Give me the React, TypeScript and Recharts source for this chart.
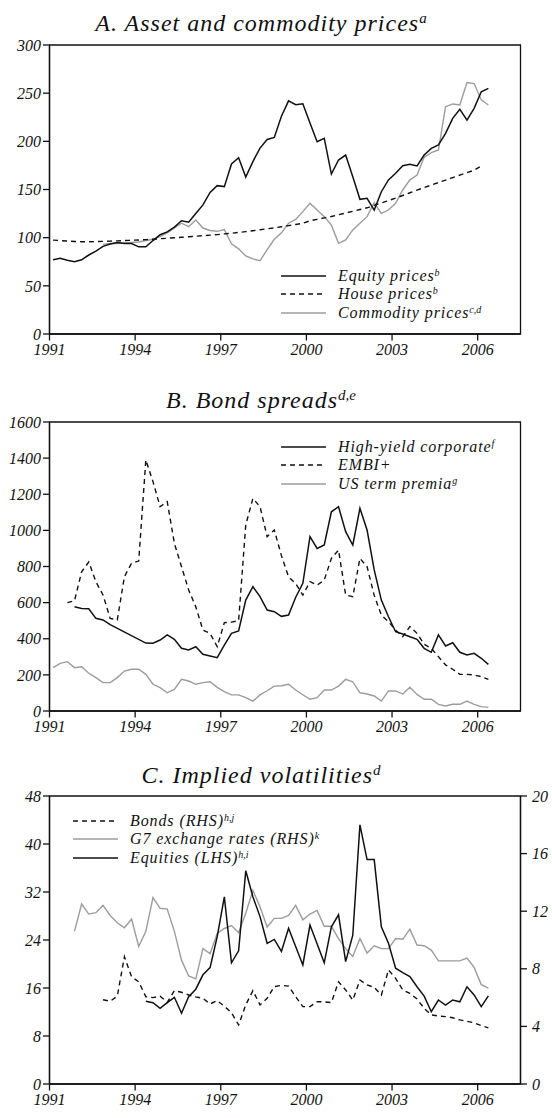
import React from "react";
import { LineChart, Line, XAxis, YAxis, ReferenceArea } from "recharts";

const FONT = "'Liberation Serif', 'Times New Roman', serif";
const BLACK = "#111";
const GREY = "#9c9c9c";
const DASH = "5 4";

// mid-quarter dates, 1991Q1 .. 2006Q2
const quarterDates = [
  1991.125, 1991.375, 1991.625, 1991.875,
  1992.125, 1992.375, 1992.625, 1992.875,
  1993.125, 1993.375, 1993.625, 1993.875,
  1994.125, 1994.375, 1994.625, 1994.875,
  1995.125, 1995.375, 1995.625, 1995.875,
  1996.125, 1996.375, 1996.625, 1996.875,
  1997.125, 1997.375, 1997.625, 1997.875,
  1998.125, 1998.375, 1998.625, 1998.875,
  1999.125, 1999.375, 1999.625, 1999.875,
  2000.125, 2000.375, 2000.625, 2000.875,
  2001.125, 2001.375, 2001.625, 2001.875,
  2002.125, 2002.375, 2002.625, 2002.875,
  2003.125, 2003.375, 2003.625, 2003.875,
  2004.125, 2004.375, 2004.625, 2004.875,
  2005.125, 2005.375, 2005.625, 2005.875,
  2006.125, 2006.375,
];

const yearTicks = [1991, 1994, 1997, 2000, 2003, 2006];

// A. Asset and commodity prices
const equityPrices = [
  77, 78.5, 76.5, 75, 77, 82, 86, 91, 93.5, 95, 94, 94, 90.5, 90.5, 97, 103,
  106, 111, 117.5, 116, 125, 134, 147, 154, 153, 176.5, 183, 163, 179, 193, 202, 204,
  226, 242, 238, 239, 219, 199.6, 203, 166, 180.6, 185.8, 163.3, 139.8,
  140.8, 128.7, 147.7, 160, 166.8, 174.7, 176.1, 174.4, 185.8, 192.7, 196.2, 208.3,
  223.9, 233.2, 222, 234.3, 251.5, 255,
];
const housePrices = [
  97.5, 97.0, 96.5, 96.0, 95.8, 95.8, 95.9, 96.1, 96.4, 96.7, 97.0, 97.3,
  97.6, 98.0, 98.4, 98.9, 99.4, 99.9, 100.4, 100.9, 101.5, 102.0, 102.6, 103.2,
  103.9, 104.6, 105.4, 106.3, 107.2, 108.2, 109.2, 110.2, 111.3, 112.5, 113.7, 115.0,
  117.5, 119.0, 120.5, 122.0, 123.8, 125.6, 127.4, 129.2, 131.0, 133.5, 136.0, 138.5,
  141.0, 143.8, 146.6, 149.4, 152.0, 154.6, 157.2, 159.8, 162.4, 165.0, 167.5, 170.0,
  174.5, null,
];
const commodityPrices = [
  null, null, null, null, null, null, null, 93, 94, 94, 94.5, 95,
  95.5, 97, 98.3, 101, 105, 110, 115, 111.4, 118.3, 110, 107.5, 106.6,
  108.3, 93.7, 88.4, 81, 77.9, 76, 87.7, 98.3, 105, 115, 119, 127,
  135.6, 128.7, 121.8, 113, 94.1, 97.6, 108, 115, 121.8, 136.3, 125.3, 128.7,
  135.6, 149.5, 160, 165, 183.4, 188.2, 191, 236, 238.8, 237.7, 261, 260,
  243, 237.7,
];

// B. Bond spreads
const highYield = [
  null, null, null, 577, 568, 566, 513, 504, 478, null, null, null,
  null, 376, 375, 393, 421, 397, 347, 338, 356, 314, 305, 295,
  365, 430, 443, 614, 688, 633, 559, 550, 524, 531, 630, 707,
  965, 900, 919, 1103, 1131, 993, 919, 1122, 1002, 781, 614, 522,
  439, 426, 411, 397, 347, 325, 421, 360, 378, 325, 310, 319,
  292, 258,
];
const embiPlus = [
  null, null, 600, 610, 770, 825, 716, 642, 513, 504, 744, 818,
  830, 1390, 1270, 1131, 1159, 928, 799, 670, 577, 448, 430, 356,
  489, 492, 500, 1030, 1177, 1131, 965, 1002, 860, 743, 705, 642,
  716, 697, 725, 845, 891, 642, 633, 845, 799, 640, 531, 494,
  448, 411, 467, 430, 370, 347, 301, 255, 231, 203, 203, 199,
  190, 175,
];
const termPremia = [
  240, 264, 273, 240, 245, 209, 185, 157, 157, 185, 221, 231,
  231, 203, 148, 129, 101, 120, 175, 166, 148, 157, 162, 131,
  107, 89, 89, 74, 55, 89, 112, 138, 140, 148, 116, 90,
  65, 74, 116, 116, 138, 175, 162, 101, 94, 83, 55, 111,
  111, 94, 131, 92, 65, 65, 37, 28, 37, 37, 55, 37,
  24, 20,
];

// C. Implied volatilities
const bondVol = [
  null, null, null, null, null, null, null, 5.85, 5.75, 6.1, 8.84, 7.45,
  7.1, 6.06, 6.0, 6.1, 5.67, 6.48, 6.37, 6.18, 6.05, 5.95, 5.56, 5.79,
  5.4, 4.95, 4.1, 5.49, 6.48, 5.49, 5.95, 6.76, 6.85, 6.8, 6.06, 5.37,
  5.37, 5.72, 5.7, 5.65, 7.1, 6.53, 5.83, 7.22, 6.88, 6.71, 6.18, 7.92,
  7.34, 6.53, 6.3, 5.9, 5.25, 4.8, 4.72, 4.68, 4.6, 4.45, 4.35, 4.25,
  4.05, 3.9,
];
const fxVol = [
  null, null, null, 10.6, 12.5, 11.8, 11.9, 12.4, 11.7, 11.2, 10.85, 11.45,
  9.55, 10.6, 12.95, 12.2, 12.15, 10.6, 8.6, 7.5, 7.3, 9.4, 9.05, 10.45,
  10.8, 11.0, 10.5, 11.85, 13.45, 12.3, 10.9, 11.5, 11.5, 11.7, 12.4, 11.4,
  11.8, 12.05, 10.95, 10.95, 10.1, 9.4, 8.85, 10.1, 9.1, 9.6, 9.4, 9.4,
  10.1, 10.05, 10.75, 9.65, 9.6, 9.3, 8.55, 8.55, 8.55, 8.55, 8.75, 8.1,
  6.9, 6.65,
];
const equityVol = [
  null, null, null, null, null, null, null, null, null, null, null, null,
  null, 13.8, 13.55, 12.6, 13.55, 14.45, 11.8, 14.55, 15.8, 18.2, 19.4, 24.55,
  31.2, 20.2, 22.2, 35.55, 31.2, 27.9, 23.45, 24.1, 22.1, 25.95, null, 19.85,
  26.5, null, 20.2, 26.2, 28.2, 20.4, 24.8, 43.2, 37.4, 37.4, 26.2, 23.45,
  19.3, 18.55, 17.9, 16.2, 14.65, 12.05, 14.0, 13.15, 14.0, 13.7, 16.2, 14.85,
  12.9, 14.7,
];

const dataA = quarterDates.map((x, i) => ({
  x, equity: equityPrices[i], house: housePrices[i], commodity: commodityPrices[i],
}));
const dataB = quarterDates.map((x, i) => ({
  x, hy: highYield[i], embi: embiPlus[i], term: termPremia[i],
}));
const dataC = quarterDates.map((x, i) => ({
  x, bonds: bondVol[i], fx: fxVol[i], equities: equityVol[i],
}));

const tickStyle = { fontFamily: FONT, fontStyle: "italic", fontSize: 16, fill: BLACK };
const axisStroke = { stroke: BLACK, strokeWidth: 1.3 };

function Title({ top, text, sup }) {
  return (
    <div
      style={{
        position: "absolute", top, left: 0, width: 522, textAlign: "center",
        fontFamily: FONT, fontStyle: "italic", fontSize: 24, lineHeight: "24px",
        letterSpacing: 1, color: BLACK, whiteSpace: "nowrap",
      }}
    >
      {text}
      <span style={{ fontSize: 15, verticalAlign: "8px", letterSpacing: 0 }}>{sup}</span>
    </div>
  );
}

function LegendBox({ left, top, items }) {
  return (
    <div style={{ position: "absolute", left, top }}>
      {items.map((it) => (
        <div
          key={it.label}
          style={{
            display: "flex", alignItems: "center", height: 18.5,
            fontFamily: FONT, fontStyle: "italic", fontSize: 16, color: BLACK,
            letterSpacing: 0.9, whiteSpace: "nowrap",
          }}
        >
          <svg width={45} height={10} style={{ marginRight: 12 }}>
            <line x1={0} y1={5} x2={45} y2={5} stroke={it.color} strokeWidth={1.4}
              strokeDasharray={it.dash ? DASH : undefined} />
          </svg>
          <span>
            {it.label}
            <span style={{ fontSize: 10, verticalAlign: "5px", letterSpacing: 0 }}>{it.sup}</span>
          </span>
        </div>
      ))}
    </div>
  );
}

function xAxis(height) {
  return (
    <XAxis
      dataKey="x" type="number" domain={[1991, 2007.5]} ticks={yearTicks}
      interval={0} height={height} tick={tickStyle} tickSize={6.5} tickMargin={3}
      axisLine={axisStroke} tickLine={axisStroke}
    />
  );
}

export default function App() {
  return (
    <div style={{ position: "absolute", left: 0, top: 0, width: 552, height: 1118, background: "#fff" }}>
      <Title top={6} text="A. Asset and commodity prices" sup="a" />
      <div style={{ position: "absolute", left: 0, top: 0 }}>
        <LineChart width={552} height={370} data={dataA}
          margin={{ top: 45, right: 31.5, bottom: 6, left: 9.5 }}>
          {xAxis(30)}
          <YAxis type="number" domain={[0, 300]} ticks={[0, 50, 100, 150, 200, 250, 300]}
            width={40} tick={tickStyle} tickSize={6.5} tickMargin={2}
            axisLine={axisStroke} tickLine={axisStroke} />
          <ReferenceArea x1={1991} x2={2007.5} y1={0} y2={300} fill="none" stroke={BLACK} strokeWidth={1.3} />
          <Line dataKey="commodity" type="linear" stroke={GREY} strokeWidth={1.4} dot={false} isAnimationActive={false} />
          <Line dataKey="house" type="linear" stroke={BLACK} strokeWidth={1.4} strokeDasharray={DASH} dot={false} isAnimationActive={false} />
          <Line dataKey="equity" type="linear" stroke={BLACK} strokeWidth={1.5} dot={false} isAnimationActive={false} />
        </LineChart>
      </div>
      <LegendBox left={281} top={266.5} items={[
        { label: "Equity prices", sup: "b", color: BLACK },
        { label: "House prices", sup: "b", color: BLACK, dash: true },
        { label: "Commodity prices", sup: "c,d", color: GREY },
      ]} />

      <Title top={383} text="B. Bond spreads" sup="d,e" />
      <div style={{ position: "absolute", left: 0, top: 370 }}>
        <LineChart width={552} height={370} data={dataB}
          margin={{ top: 52, right: 31.5, bottom: 0, left: 9.5 }}>
          {xAxis(29)}
          <YAxis type="number" domain={[0, 1600]} ticks={[0, 200, 400, 600, 800, 1000, 1200, 1400, 1600]}
            width={40} tick={tickStyle} tickSize={6.5} tickMargin={2}
            axisLine={axisStroke} tickLine={axisStroke} />
          <ReferenceArea x1={1991} x2={2007.5} y1={0} y2={1600} fill="none" stroke={BLACK} strokeWidth={1.3} />
          <Line dataKey="term" type="linear" stroke={GREY} strokeWidth={1.4} dot={false} isAnimationActive={false} />
          <Line dataKey="embi" type="linear" stroke={BLACK} strokeWidth={1.4} strokeDasharray={DASH} dot={false} isAnimationActive={false} />
          <Line dataKey="hy" type="linear" stroke={BLACK} strokeWidth={1.5} dot={false} connectNulls isAnimationActive={false} />
        </LineChart>
      </div>
      <LegendBox left={281} top={437.5} items={[
        { label: "High-yield corporate", sup: "f", color: BLACK },
        { label: "EMBI+", sup: "", color: BLACK, dash: true },
        { label: "US term premia", sup: "g", color: GREY },
      ]} />

      <Title top={758} text="C. Implied volatilities" sup="d" />
      <div style={{ position: "absolute", left: 0, top: 740 }}>
        <LineChart width={552} height={378} data={dataC}
          margin={{ top: 56, right: 0, bottom: 4, left: 9.5 }}>
          {xAxis(30)}
          <YAxis yAxisId="left" type="number" domain={[0, 48]} ticks={[0, 8, 16, 24, 32, 40, 48]}
            width={40} tick={tickStyle} tickSize={6.5} tickMargin={2}
            axisLine={axisStroke} tickLine={axisStroke} />
          <YAxis yAxisId="right" orientation="right" type="number" domain={[0, 20]} ticks={[0, 4, 8, 12, 16, 20]}
            width={31.5} tick={tickStyle} tickSize={6.5} tickMargin={5}
            axisLine={axisStroke} tickLine={axisStroke} />
          <ReferenceArea yAxisId="left" x1={1991} x2={2007.5} y1={0} y2={48} fill="none" stroke={BLACK} strokeWidth={1.3} />
          <Line yAxisId="right" dataKey="fx" type="linear" stroke={GREY} strokeWidth={1.4} dot={false} isAnimationActive={false} />
          <Line yAxisId="right" dataKey="bonds" type="linear" stroke={BLACK} strokeWidth={1.4} strokeDasharray={DASH} dot={false} isAnimationActive={false} />
          <Line yAxisId="left" dataKey="equities" type="linear" stroke={BLACK} strokeWidth={1.5} dot={false} connectNulls isAnimationActive={false} />
        </LineChart>
      </div>
      <LegendBox left={73} top={811.5} items={[
        { label: "Bonds (RHS)", sup: "h,j", color: BLACK, dash: true },
        { label: "G7 exchange rates (RHS)", sup: "k", color: GREY },
        { label: "Equities (LHS)", sup: "h,i", color: BLACK },
      ]} />
    </div>
  );
}
